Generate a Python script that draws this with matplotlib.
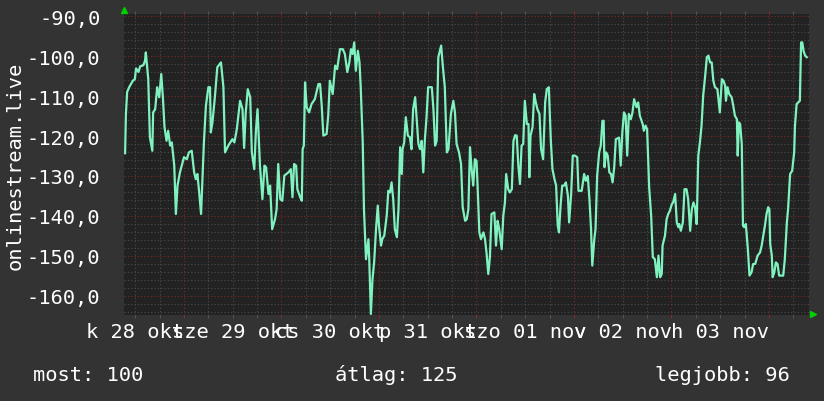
import matplotlib
matplotlib.use("Agg")
import matplotlib.pyplot as plt
from matplotlib.lines import Line2D
from matplotlib.ticker import MultipleLocator, FuncFormatter

# hours relative to the first midnight marker, signal level in dB
hours = [
    -14.5, -14.3, -14.0, -13.5, -12.6, -12.1, -11.8, -11.2, -10.8, -10.0,
    -9.6, -9.4, -8.8, -8.4, -7.8, -7.6, -7.1, -6.6, -6.1, -5.6,
    -5.2, -4.8, -4.3, -3.9, -3.4, -3.0, -2.4, -2.0, -1.6, -1.0,
    0.0, 0.7, 1.2, 1.9, 2.5, 2.9, 3.3, 3.7, 4.2, 4.9,
    5.4, 6.0, 6.4, 6.6, 7.0, 7.6, 8.2, 9.1, 9.7, 10.1,
    10.9, 11.9, 12.4, 13.0, 13.8, 14.4, 14.8, 15.2, 15.7, 16.3,
    16.7, 17.3, 17.7, 18.1, 18.7, 19.3, 19.8, 20.2, 20.8, 21.2,
    21.7, 22.4, 22.8, 23.2, 23.7, 24.2, 24.7, 25.7, 26.3, 26.7,
    27.1, 27.6, 27.9, 28.6, 29.0, 29.2, 29.5, 29.8, 30.2, 30.8,
    31.4, 32.2, 33.1, 33.5, 33.9, 34.3, 35.1, 35.5, 35.9, 36.6,
    37.2, 37.7, 38.4, 39.1, 39.6, 40.2, 40.7, 41.1, 41.5, 41.9,
    42.3, 42.8, 43.2, 43.5, 44.0, 44.3, 44.8, 45.4, 45.6, 46.0,
    46.4, 46.8, 47.3, 47.7, 48.0, 48.5, 48.8, 49.3, 49.9, 50.3,
    50.7, 51.1, 51.5, 51.9, 52.4, 52.8, 53.2, 53.6, 53.8, 54.2,
    54.6, 55.1, 55.6, 56.0, 56.4, 56.9, 57.4, 57.7, 58.1, 58.5,
    58.9, 59.3, 59.7, 60.1, 61.0, 61.4, 61.8, 62.2, 62.6, 63.3,
    63.7, 64.2, 64.7, 65.1, 65.7, 66.3, 66.7, 67.1, 67.7, 68.2,
    68.6, 69.2, 69.6, 70.0, 70.4, 70.8, 71.2, 71.6, 72.0, 72.3,
    72.7, 73.1, 73.7, 74.1, 74.5, 74.9, 75.3, 75.7, 76.4, 76.8,
    77.2, 77.6, 78.2, 78.6, 79.0, 79.3, 79.8, 80.2, 80.7, 81.1,
    81.5, 81.9, 82.3, 82.7, 83.1, 83.5, 83.9, 84.4, 84.8, 85.0,
    85.3, 85.8, 86.2, 86.6, 87.0, 87.5, 87.9, 88.4, 88.9, 89.3,
    89.8, 90.3, 90.7, 91.2, 91.6, 92.0, 92.3, 92.7, 93.1, 93.6,
    94.0, 94.5, 94.8, 95.3, 95.7, 96.2, 96.8, 97.1, 97.9, 98.5,
    98.9, 99.4, 99.8, 100.2, 100.5, 101.0, 101.3, 101.7, 102.2, 102.6,
    103.0, 103.3, 103.5, 103.9, 104.3, 104.7, 105.1, 105.5, 105.9, 106.3,
    107.1, 107.5, 107.9, 108.3, 108.7, 109.1, 109.5, 110.0, 110.4, 110.8,
    111.4, 111.8, 112.2, 112.9, 113.2, 113.6, 114.0, 114.5, 115.0, 115.4,
    115.9, 116.4, 116.8, 117.2, 117.6, 117.8, 118.4, 118.8, 119.2, 119.6,
    120.1, 120.4, 120.9, 121.3, 121.7, 121.9, 122.3, 122.8, 123.2, 123.7,
    124.1, 124.6, 125.0, 125.4, 125.8, 126.2, 126.6, 127.0, 127.4, 127.8,
    128.3, 128.7, 129.1, 129.5, 129.9, 130.3, 130.7, 131.3, 131.9, 132.4,
    132.8, 133.2, 133.4, 133.8, 134.2, 134.8, 135.2, 135.6, 136.1, 136.3,
    136.6, 136.9, 137.3, 137.6, 137.9, 138.3, 138.8, 139.2, 139.7, 140.1,
    140.6, 141.2, 141.8, 142.2, 142.6, 143.0, 143.4, 143.8, 144.1, 144.3,
    144.7, 144.9, 145.3, 145.7, 146.1, 146.5, 147.5, 147.9, 148.4, 148.7,
    149.2, 149.7, 150.2, 150.4, 150.8, 151.2, 151.6, 151.9, 152.2, 152.5,
    152.9, 153.3,
]
signal = [
    -124.3, -114.5, -109.0, -107.8, -106.2, -105.8, -103.1, -104.0, -102.6, -102.3,
    -101.2, -99.1, -105.8, -120.3, -123.7, -114.1, -113.3, -107.8, -110.3, -104.5,
    -110.3, -117.8, -121.2, -118.7, -122.4, -121.6, -127.4, -139.5, -132.4, -129.1,
    -125.3, -125.8, -124.1, -123.7, -129.1, -130.8, -129.5, -133.7, -139.5, -121.6,
    -112.4, -107.8, -107.8, -119.1, -116.6, -110.3, -102.8, -101.6, -107.8, -124.1,
    -122.4, -120.8, -121.6, -118.3, -111.2, -113.3, -123.0, -114.1, -108.3, -110.3,
    -124.1, -128.3, -118.7, -113.3, -127.4, -135.8, -127.4, -127.8, -134.5, -132.4,
    -143.3, -140.8, -138.3, -127.0, -135.8, -136.2, -129.9, -129.1, -128.3, -135.3,
    -127.0, -127.4, -133.3, -135.3, -136.2, -123.3, -122.4, -106.6, -112.8, -114.1,
    -112.0, -110.8, -107.0, -107.0, -112.4, -119.9, -119.5, -114.9, -106.2, -109.5,
    -102.4, -103.3, -98.3, -98.3, -99.5, -104.0, -101.6, -98.3, -99.5, -96.6,
    -103.7, -98.7, -101.6, -107.8, -121.6, -138.3, -150.8, -145.8, -150.8, -164.5,
    -155.8, -151.6, -142.8, -137.4, -142.4, -147.4, -145.8, -144.9, -139.9, -133.7,
    -134.1, -131.6, -135.8, -143.3, -145.3, -138.3, -122.8, -129.5, -123.3, -121.6,
    -115.3, -119.9, -120.3, -123.3, -113.3, -110.3, -117.4, -122.0, -123.3, -121.2,
    -129.1, -120.8, -115.3, -107.8, -107.8, -113.3, -122.4, -121.2, -100.3, -97.4,
    -102.4, -107.8, -124.1, -123.3, -114.5, -111.2, -114.1, -122.0, -124.1, -127.0,
    -137.8, -141.2, -140.8, -138.3, -122.8, -128.3, -132.4, -125.8, -126.2, -133.3,
    -144.1, -145.8, -144.1, -145.8, -149.5, -154.5, -150.3, -139.5, -139.1, -147.4,
    -141.2, -143.3, -148.3, -139.9, -136.6, -129.5, -133.3, -134.1, -133.3, -121.2,
    -119.8, -119.9, -127.4, -132.0, -122.4, -122.0, -111.2, -117.0, -117.0, -130.3,
    -119.9, -117.8, -109.5, -111.6, -113.3, -114.5, -123.3, -125.8, -111.6, -108.3,
    -107.8, -121.2, -128.3, -130.8, -132.4, -142.4, -144.1, -137.4, -132.4, -132.4,
    -131.6, -134.9, -141.6, -134.5, -124.9, -124.9, -125.3, -133.7, -133.7, -129.5,
    -131.2, -130.0, -135.8, -143.3, -152.4, -145.8, -143.3, -129.9, -124.1, -122.4,
    -116.2, -116.2, -127.8, -124.1, -124.9, -129.1, -129.5, -131.6, -127.8, -120.8,
    -120.4, -127.4, -119.1, -114.1, -114.9, -124.9, -114.5, -115.8, -114.1, -110.8,
    -112.8, -111.6, -114.9, -117.0, -118.7, -117.4, -118.3, -132.8, -140.0, -150.3,
    -150.8, -155.3, -149.9, -155.3, -154.5, -147.4, -144.9, -140.8, -139.5, -138.7,
    -137.0, -136.6, -134.5, -141.6, -142.8, -142.0, -143.7, -141.6, -133.3, -133.3,
    -135.8, -143.7, -138.3, -136.6, -137.8, -142.0, -124.9, -121.6, -117.4, -109.9,
    -104.9, -100.3, -99.9, -101.6, -101.6, -106.2, -107.8, -108.3, -114.1, -105.8,
    -106.2, -107.4, -111.2, -107.8, -109.5, -110.3, -112.4, -114.9, -115.8, -124.9,
    -116.6, -117.0, -122.0, -142.4, -142.8, -142.0, -148.3, -154.9, -154.1, -152.0,
    -152.0, -149.9, -149.1, -147.4, -144.9, -142.4, -139.5, -137.8, -138.3, -147.0,
    -149.9, -155.3, -154.1, -151.6, -152.0, -154.9, -154.9, -150.8, -141.6, -138.3,
    -129.5, -128.7, -124.1, -117.4, -112.0, -111.6, -111.2, -96.6, -96.6, -98.7,
    -99.9, -100.3,
]

day_labels = ["k 28 okt", "sze 29 okt", "cs 30 okt", "p 31 okt",
              "szo 01 nov", "v 02 nov", "h 03 nov"]
label_hours = [-12, 12, 36, 60, 84, 108, 132]
summary = ["most: 100", "átlag: 125", "legjobb: 96"]

plt.rcParams['font.family'] = ['DejaVu Sans Mono']
fs = 14.7
W, H = 824, 402

fig = plt.figure(figsize=(W / 100, H / 100), dpi=100, facecolor='#333333')
ax = fig.add_axes([124 / W, 86 / H, 685 / W, 301 / H])
ax.set_facecolor('#222222')

ax.plot(hours, signal, color='#7ff2bf', lw=1.6, zorder=3)

ax.set_xlim(-14.77, 153.85)
ax.set_ylim(-164.75, -89.5)

ax.xaxis.set_major_locator(MultipleLocator(24))
ax.xaxis.set_minor_locator(MultipleLocator(6))
ax.yaxis.set_major_locator(MultipleLocator(10))
ax.yaxis.set_minor_locator(MultipleLocator(2))
ax.yaxis.set_major_formatter(FuncFormatter(lambda v, p: f"{v:.1f}".replace('.', ',')))

ax.grid(which='minor', color='#4c4c4c', linestyle=(0, (1, 2)), linewidth=0.8)
ax.grid(which='major', color='#7a2a2a', linestyle=(0, (1, 2)), linewidth=0.8)
ax.set_axisbelow(True)

ax.tick_params(axis='y', which='both', length=0, pad=17, labelsize=fs, labelcolor='white')
ax.tick_params(axis='x', which='both', bottom=True, top=True, labelbottom=False,
               direction='out', length=2.5, width=0.8)
ax.tick_params(axis='x', which='major', color='#8a2a2a')
ax.tick_params(axis='x', which='minor', color='#555555')
for s in ax.spines.values():
    s.set_visible(False)

for h, lab in zip(label_hours, day_labels):
    ax.text(h, (316 - 338) / 301, lab, transform=ax.get_xaxis_transform(),
            ha='center', va='baseline', color='white', fontsize=fs)

fig.text(15 / W, 1 - 165.5 / H, 'onlinestream.live', rotation=90,
         ha='center', va='center', color='white', fontsize=fs)

fig.text(33 / W, 1 - 381 / H, summary[0], ha='left', va='baseline', color='white', fontsize=fs)
fig.text(335 / W, 1 - 381 / H, summary[1], ha='left', va='baseline', color='white', fontsize=fs)
fig.text(790 / W, 1 - 381 / H, summary[2], ha='right', va='baseline', color='white', fontsize=fs)

# green arrow heads at the axis ends
fig.add_artist(Line2D([124.5 / W], [1 - 11 / H], marker='^', markersize=5,
                      color='#00d000', transform=fig.transFigure))
fig.add_artist(Line2D([813 / W], [1 - 314.5 / H], marker='>', markersize=5,
                      color='#00d000', transform=fig.transFigure))

fig.savefig('out.png', dpi=100, facecolor=fig.get_facecolor())
plt.close(fig)
